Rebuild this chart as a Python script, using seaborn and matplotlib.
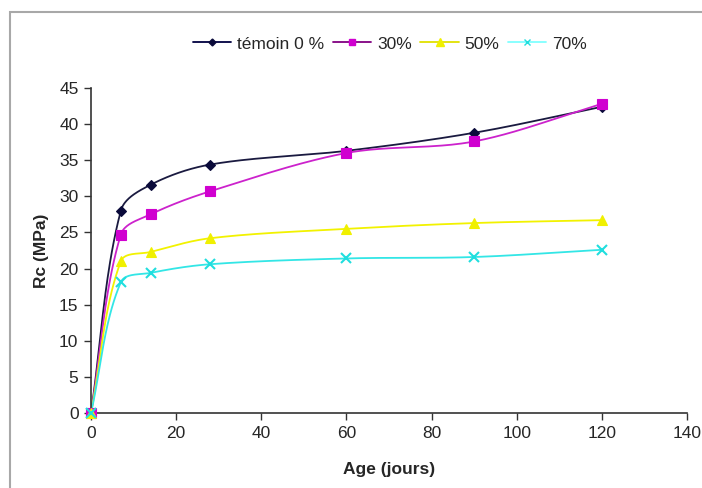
import numpy as np
import pandas as pd
import matplotlib
matplotlib.use("Agg")
import matplotlib.pyplot as plt
from matplotlib.lines import Line2D
from matplotlib.patches import Rectangle
import seaborn as sns

# ---- data ----
age = [0, 7, 14, 28, 60, 90, 120]
temoin = [0, 28.0, 31.6, 34.4, 36.3, 38.8, 42.4]
p30 = [0, 24.7, 27.5, 30.7, 36.0, 37.6, 42.8]
p50 = [0, 21.0, 22.3, 24.2, 25.5, 26.3, 26.7]
p70 = [0, 18.1, 19.4, 20.6, 21.4, 21.6, 22.6]
labels = ["témoin 0 %", "30%", "50%", "70%"]
xticks = [0, 20, 40, 60, 80, 100, 120, 140]
yticks = [0, 5, 10, 15, 20, 25, 30, 35, 40, 45]

series = [temoin, p30, p50, p70]
line_colors = ["#1a1a40", "#cc22cc", "#f2f200", "#33e6e6"]
mk_colors = ["#0a0a3a", "#d000d0", "#f0f000", "#20dede"]
markers = ["D", "s", "^", "x"]
msizes = [5, 6.5, 7.5, 7]
leg_line_colors = ["#000040", "#800080", "#e0e000", "#80ffff"]

sns.set_style("ticks")
plt.rcParams["font.family"] = ["Liberation Sans", "DejaVu Sans"]

fig = plt.figure(figsize=(7.02, 4.88), dpi=100)
ax = fig.add_axes([91/702, 1-413/488, 596/702, 325/488])

# scale factors (px per unit) for screen-space smoothing like Excel
sx, sy = 596/140, 325/45

def smooth(xs, ys, n=40, f=0.33):
    P = np.column_stack([np.array(xs)*sx, np.array(ys)*sy])
    out = []
    m = len(P)
    def unit(v):
        nv = np.linalg.norm(v)
        return v/nv if nv > 0 else v
    for i in range(m-1):
        p0 = P[i-1] if i > 0 else P[i]
        p1 = P[i]
        p2 = P[i+1]
        p3 = P[i+2] if i+2 < m else P[i+1]
        L = np.linalg.norm(p2-p1)
        c1 = p1 + unit(p2-p0)*L*f
        c2 = p2 - unit(p3-p1)*L*f
        t = np.linspace(0, 1, n)[:, None]
        b = ((1-t)**3)*p1 + 3*((1-t)**2)*t*c1 + 3*(1-t)*t**2*c2 + t**3*p2
        out.append(b if i == 0 else b[1:])
    B = np.vstack(out)
    return B[:, 0]/sx, B[:, 1]/sy

for k, (ys, lab) in enumerate(zip(series, labels)):
    xs_s, ys_s = smooth(age, ys)
    df = pd.DataFrame({"x": xs_s, "y": ys_s})
    sns.lineplot(data=df, x="x", y="y", sort=False, ax=ax, color=line_colors[k],
                 lw=1.3, estimator=None, zorder=2+k*0.1)
for k, ys in enumerate(series):
    dfp = pd.DataFrame({"x": age, "y": ys})
    ax.plot(dfp["x"], dfp["y"], ls="none", marker=markers[k], ms=msizes[k],
            color=mk_colors[k], mec=mk_colors[k], mew=1.5 if markers[k] == "x" else 0.8,
            zorder=4, clip_on=False)

ax.set_xlim(0, 140)
ax.set_ylim(0, 45)
ax.set_xticks(xticks)
ax.set_yticks(yticks)
ax.tick_params(axis="both", labelsize=12.5, direction="out", length=5, width=1,
               color="#333333", pad=4)
for s in ["top", "right"]:
    ax.spines[s].set_visible(False)
for s in ["left", "bottom"]:
    ax.spines[s].set_color("#333333")
    ax.spines[s].set_linewidth(1.2)

ax.set_xlabel("Age (jours)", fontsize=12.5, fontweight="bold")
ax.set_ylabel("Rc (MPa)", fontsize=12.5, fontweight="bold")
ax.xaxis.set_label_coords(0.5, (413-462)/325)
ax.yaxis.set_label_coords((49-91)/596, 0.5)

handles = [Line2D([0], [0], color=leg_line_colors[k], lw=1.3, marker=markers[k],
                  ms=msizes[k]*0.7, mfc=mk_colors[k], mec=mk_colors[k])
           for k in range(4)]
fig.legend(handles, labels, loc="center", bbox_to_anchor=(390/702, 1-44/488),
           ncol=4, frameon=False, fontsize=12.5, handlelength=2.2,
           handletextpad=0.35, columnspacing=0.5)

fig.patches.append(Rectangle((10/702, -0.1), 1.2, 1-12/488+0.1, transform=fig.transFigure,
                             fill=False, edgecolor="#a8a8a8", lw=1.5))

fig.savefig("out.png", dpi=100)
